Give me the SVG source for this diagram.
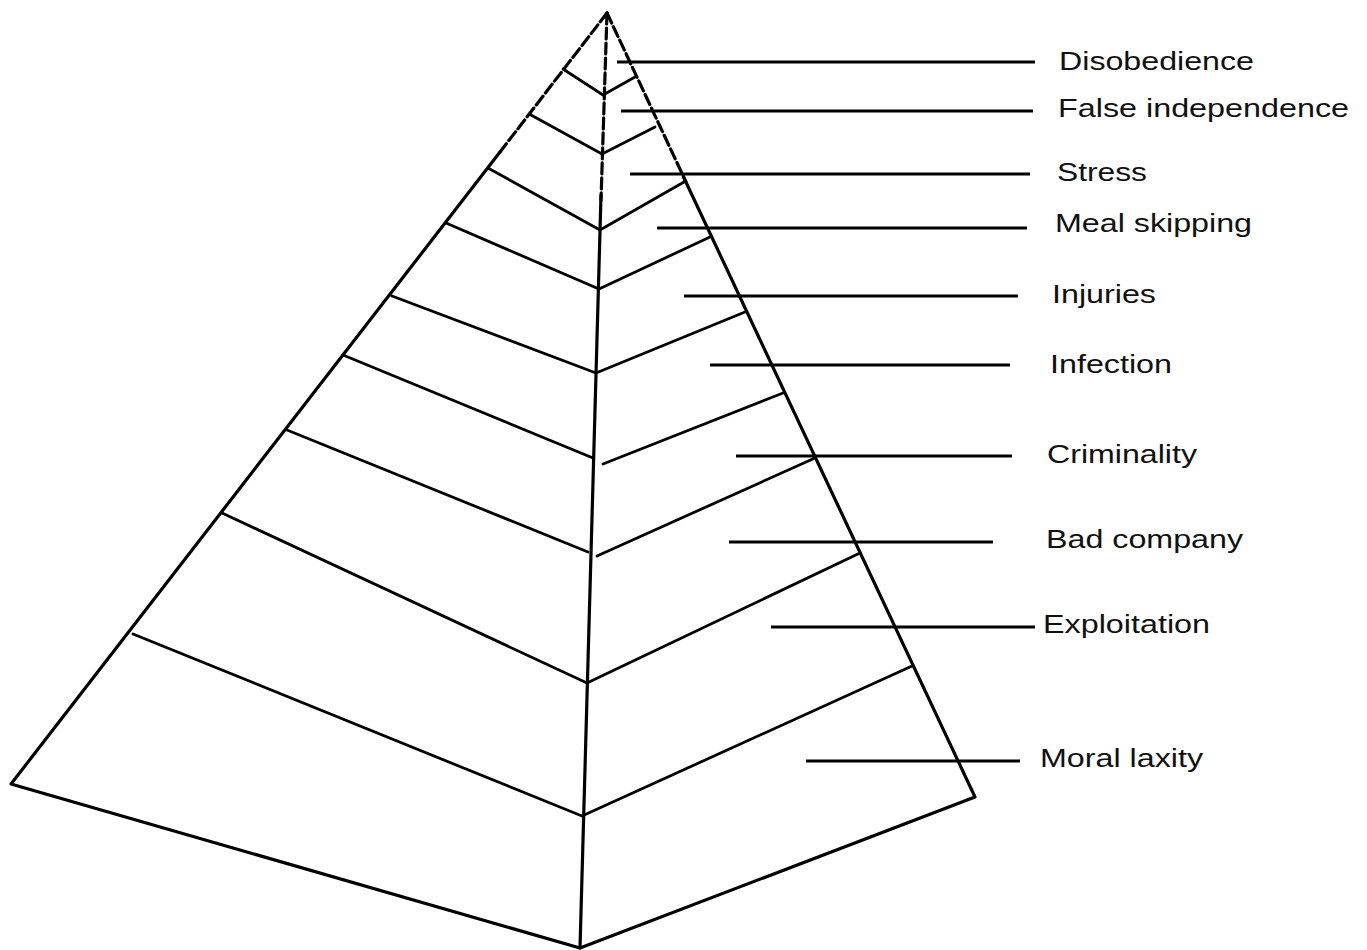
<svg xmlns="http://www.w3.org/2000/svg" width="1367" height="950" viewBox="0 0 1367 950">
<style>
.edge{stroke:#000;stroke-width:3.2;fill:none;stroke-linecap:round;stroke-linejoin:round}
.dash{stroke-dasharray:11 4}
.band{stroke:#000;stroke-width:2.8;fill:none;stroke-linecap:round;stroke-linejoin:round}
.lead{stroke:#000;stroke-width:3;fill:none}
.lbl{font-family:"Liberation Sans",Arial,sans-serif;font-size:25px;fill:#111}
</style>
<rect width="1367" height="950" fill="#fff"/>
<g id="pyramid">
<polyline class="edge dash" points="607,13 500,152"/>
<polyline class="edge dash" points="607,13 686,182"/>
<polyline class="edge dash" points="607,13 601,200"/>
<polyline class="edge" points="500,152 11,784 580,948 975,797 684,178"/>
<polyline class="edge" points="601,195 580,948"/>
</g>
<g id="bands">
<polyline class="band" points="563,69 603,95 635,77"/>
<polyline class="band" points="531,115 602,154 655,127"/>
<polyline class="band" points="488,168 600,230 684,182"/>
<polyline class="band" points="446,223 599,289 710,237"/>
<polyline class="band" points="392,296 596,373 745,312"/>
<polyline class="band" points="343,355 593,458"/>
<polyline class="band" points="603,464 783,393"/>
<polyline class="band" points="287,430 588,552"/>
<polyline class="band" points="597,556 815,458"/>
<polyline class="band" points="222,513 587,683 860,553"/>
<polyline class="band" points="133,634 582,816 912,666"/>
</g>
<g id="connectors">
<line class="lead" x1="617" y1="62" x2="1035" y2="62"/>
<line class="lead" x1="621" y1="111" x2="1033" y2="111"/>
<line class="lead" x1="630" y1="174" x2="1030" y2="174"/>
<line class="lead" x1="657" y1="228" x2="1027" y2="228"/>
<line class="lead" x1="684" y1="296" x2="1018" y2="296"/>
<line class="lead" x1="710" y1="365" x2="1010" y2="365"/>
<line class="lead" x1="736" y1="456" x2="1012" y2="456"/>
<line class="lead" x1="729" y1="542" x2="993" y2="542"/>
<line class="lead" x1="771" y1="627" x2="1035" y2="627"/>
<line class="lead" x1="806" y1="761" x2="1020" y2="761"/>
</g>
<g id="labels">
<g id="l1"><text class="lbl" x="1059" y="70" textLength="195" lengthAdjust="spacingAndGlyphs">Disobedience</text></g>
<g id="l2"><text class="lbl" x="1058" y="117" textLength="291" lengthAdjust="spacingAndGlyphs">False independence</text></g>
<g id="l3"><text class="lbl" x="1057" y="181" textLength="90" lengthAdjust="spacingAndGlyphs">Stress</text></g>
<g id="l4"><text class="lbl" x="1055" y="232" textLength="197" lengthAdjust="spacingAndGlyphs">Meal skipping</text></g>
<g id="l5"><text class="lbl" x="1052" y="303" textLength="104" lengthAdjust="spacingAndGlyphs">Injuries</text></g>
<g id="l6"><text class="lbl" x="1050" y="373" textLength="122" lengthAdjust="spacingAndGlyphs">Infection</text></g>
<g id="l7"><text class="lbl" x="1047" y="463" textLength="150" lengthAdjust="spacingAndGlyphs">Criminality</text></g>
<g id="l8"><text class="lbl" x="1046" y="548" textLength="197" lengthAdjust="spacingAndGlyphs">Bad company</text></g>
<g id="l9"><text class="lbl" x="1043" y="633" textLength="167" lengthAdjust="spacingAndGlyphs">Exploitation</text></g>
<g id="l10"><text class="lbl" x="1040" y="767" textLength="163" lengthAdjust="spacingAndGlyphs">Moral laxity</text></g>
</g>
</svg>
